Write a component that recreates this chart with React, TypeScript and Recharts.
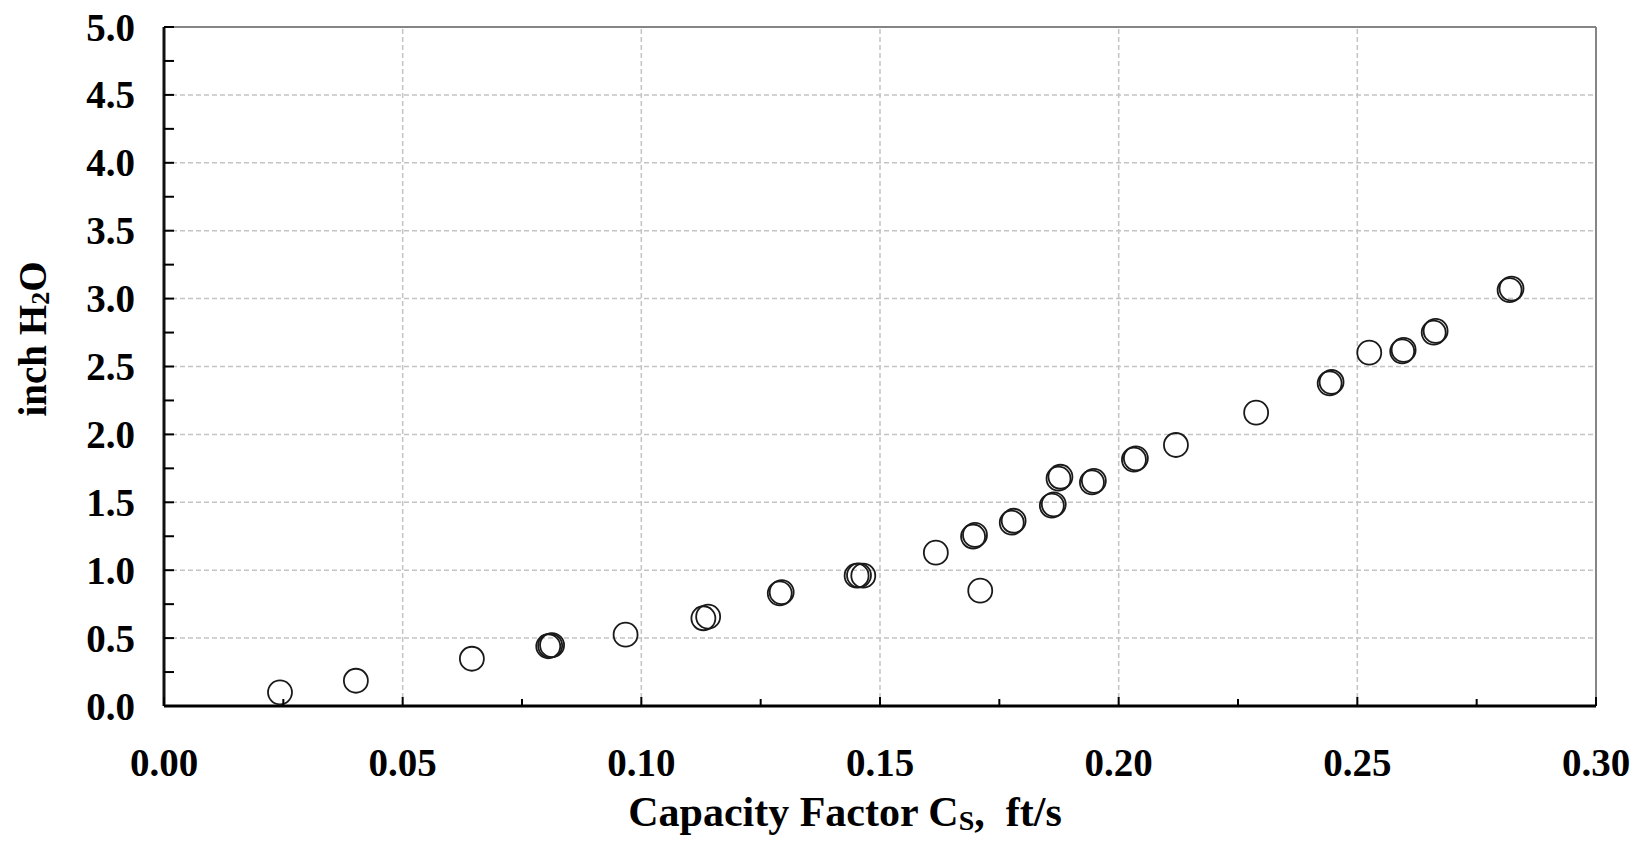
import {
  ReferenceLine,
  Scatter,
  ScatterChart,
  XAxis,
  YAxis,
  Label,
} from "recharts";

const FONT = "'Liberation Serif', 'Times New Roman', serif";
const INK = "#1a1a1a";
const GRID = "#c4c4c4";
const FRAME = "#858585";

// capacity factor Cs (ft/s) vs pressure drop (inch H2O)
const CS = [
  0.0243, 0.0402, 0.0645, 0.0805, 0.0809, 0.0813, 0.0967, 0.113, 0.114,
  0.129, 0.1294, 0.1451, 0.1456, 0.1465, 0.1617, 0.1695, 0.1699, 0.171,
  0.1776, 0.178, 0.186, 0.1864, 0.1874, 0.1878, 0.1944, 0.1948, 0.2032,
  0.2036, 0.212, 0.2288, 0.2442, 0.2446, 0.2525, 0.2594, 0.2597, 0.266,
  0.2664, 0.2819, 0.2823,
];
const DP = [
  0.101, 0.186, 0.348, 0.44, 0.444, 0.448, 0.525, 0.646, 0.658,
  0.83, 0.838, 0.96, 0.962, 0.96, 1.129, 1.248, 1.26, 0.849,
  1.35, 1.364, 1.476, 1.485, 1.674, 1.688, 1.646, 1.658, 1.814,
  1.824, 1.922, 2.16, 2.376, 2.386, 2.602, 2.612, 2.622, 2.75,
  2.762, 3.062, 3.074,
];

const X_TICKS = [0, 0.025, 0.05, 0.075, 0.1, 0.125, 0.15, 0.175, 0.2, 0.225, 0.25, 0.275, 0.3];
const Y_TICKS = [0, 0.25, 0.5, 0.75, 1, 1.25, 1.5, 1.75, 2, 2.25, 2.5, 2.75, 3, 3.25, 3.5, 3.75, 4, 4.25, 4.5, 4.75, 5];
const X_GRID = [0.05, 0.1, 0.15, 0.2, 0.25];
const Y_GRID = [0.5, 1, 1.5, 2, 2.5, 3, 3.5, 4, 4.5];

const data = CS.map((x, i) => ({ x, y: DP[i] }));

const isMajorX = (v: number) => Math.abs(v / 0.05 - Math.round(v / 0.05)) < 1e-6;
const isMajorY = (v: number) => Math.abs(v / 0.5 - Math.round(v / 0.5)) < 1e-6;

function XTick(props: any) {
  const { x, y, payload } = props;
  const major = isMajorX(payload.value);
  return (
    <g>
      <line x1={x} x2={x} y1={y} y2={y - (major ? 9 : 7)} stroke="#000" strokeWidth={2} />
      {major && (
        <text x={x} y={y + 56} textAnchor="middle" dominantBaseline="central" fontFamily={FONT} fontWeight="bold" fontSize={39} fill="#000">
          {payload.value.toFixed(2)}
        </text>
      )}
    </g>
  );
}

function YTick(props: any) {
  const { x, y, payload } = props;
  const major = isMajorY(payload.value);
  return (
    <g>
      <line x1={x} x2={x + 10} y1={y} y2={y} stroke="#000" strokeWidth={2} />
      {major && (
        <text x={x - 29} y={y} textAnchor="end" dominantBaseline="central" fontFamily={FONT} fontWeight="bold" fontSize={39} fill="#000">
          {payload.value.toFixed(1)}
        </text>
      )}
    </g>
  );
}

function Ring(props: any) {
  const { cx, cy } = props;
  return <circle cx={cx} cy={cy} r={12} fill="none" stroke={INK} strokeWidth={1.8} />;
}

export default function App() {
  return (
    <div style={{ position: "absolute", left: 0, top: 0, width: 1638, height: 843, background: "#fff" }}>
      <ScatterChart width={1638} height={843} margin={{ top: 27, right: 42, bottom: 0, left: 0 }}>
        {X_GRID.map((v) => (
          <ReferenceLine key={"gx" + v} x={v} stroke={GRID} strokeWidth={1.5} strokeDasharray="5 3" />
        ))}
        {Y_GRID.map((v) => (
          <ReferenceLine key={"gy" + v} y={v} stroke={GRID} strokeWidth={1.5} strokeDasharray="5 3" />
        ))}
        <ReferenceLine y={5} stroke={FRAME} strokeWidth={2} />
        <ReferenceLine x={0.3} stroke={FRAME} strokeWidth={2} />
        <XAxis
          type="number"
          dataKey="x"
          domain={[0, 0.3]}
          ticks={X_TICKS}
          interval={0}
          height={137}
          tickSize={0}
          tickMargin={0}
          tickLine={false}
          axisLine={{ stroke: "#000", strokeWidth: 3 }}
          tick={<XTick />}
        >
          <Label
            content={() => (
              <text x={845} y={812} textAnchor="middle" dominantBaseline="central" fontFamily={FONT} fontWeight="bold" fontSize={42} fill="#000">
                Capacity Factor C<tspan fontSize={28} dy={8}>S</tspan>
                <tspan dy={-8}>,{"\u00A0\u00A0"}ft/s</tspan>
              </text>
            )}
          />
        </XAxis>
        <YAxis
          type="number"
          dataKey="y"
          domain={[0, 5]}
          ticks={Y_TICKS}
          interval={0}
          width={164}
          tickSize={0}
          tickMargin={0}
          tickLine={false}
          axisLine={{ stroke: "#111", strokeWidth: 3 }}
          tick={<YTick />}
        >
          <Label
            content={() => (
              <text x={32} y={339} textAnchor="middle" dominantBaseline="central" transform="rotate(-90 32 339)" fontFamily={FONT} fontWeight="bold" fontSize={39} fill="#000">
                inch H<tspan fontSize={26} dy={8}>2</tspan>
                <tspan dy={-8}>O</tspan>
              </text>
            )}
          />
        </YAxis>
        <Scatter data={data} shape={<Ring />} isAnimationActive={false} />
      </ScatterChart>
    </div>
  );
}
